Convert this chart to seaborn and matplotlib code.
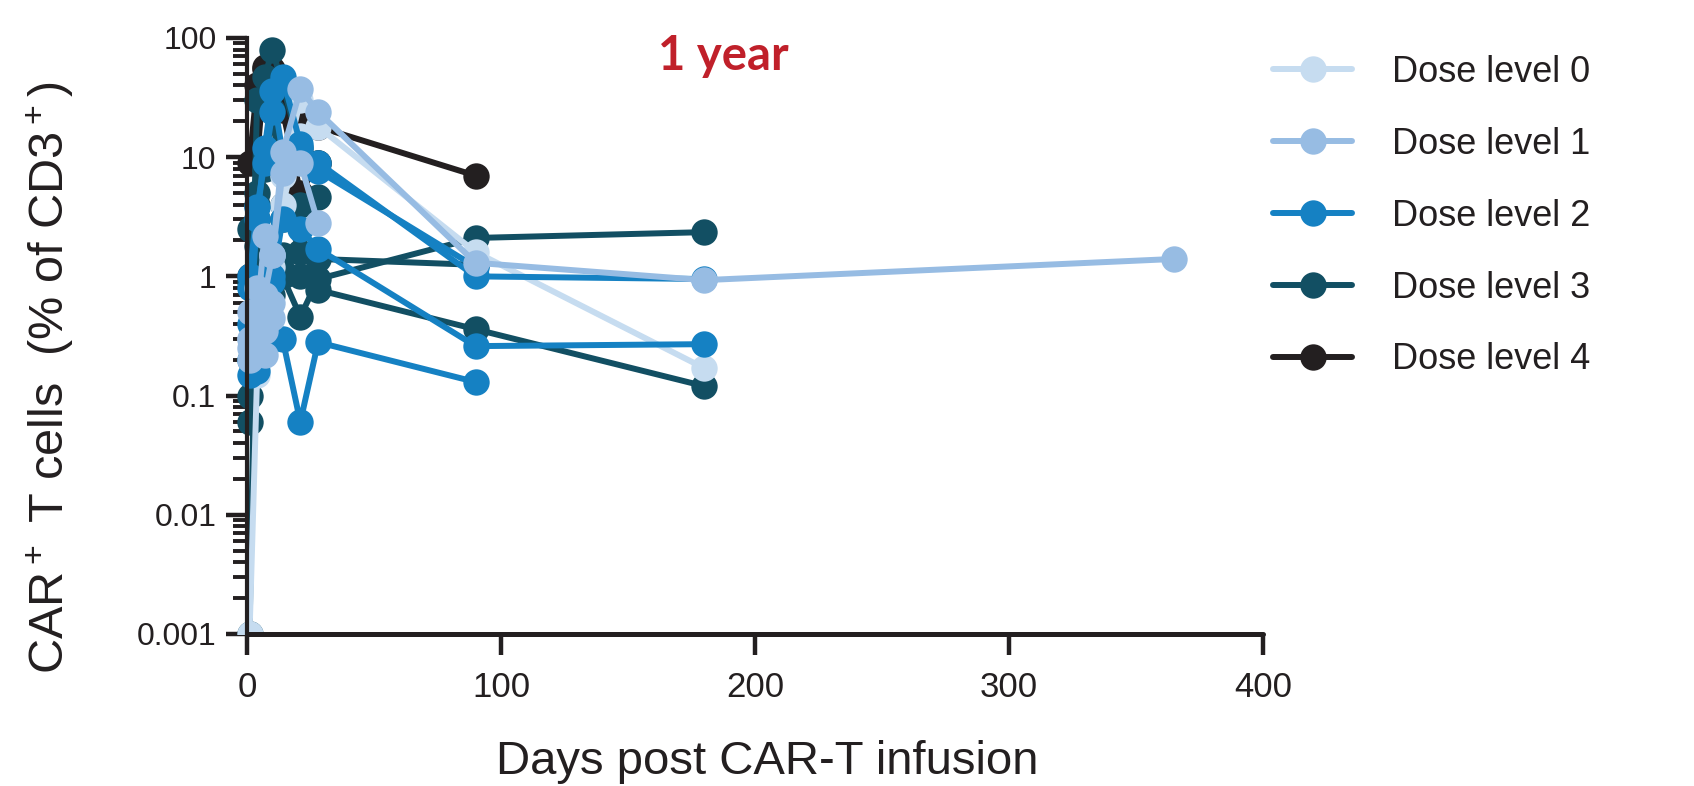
import numpy as np
import pandas as pd
import matplotlib
matplotlib.use("Agg")
import matplotlib.pyplot as plt
import seaborn as sns
from matplotlib.lines import Line2D
from matplotlib.ticker import FixedLocator, LogLocator, NullFormatter
from matplotlib.transforms import Bbox, TransformedBbox

nan = np.nan

# sampling days (first sample drawn just right of the axis)
days = [1, 4, 7, 10, 14, 21, 28, 90, 180, 365]

# CAR+ T cells (% of CD3+) per patient
dl0_a = [0.001, 0.15, 0.35, 1.2, 7.0, 30, 18, 1.6, 0.17, nan]
dl0_b = [0.3, 0.2, 0.5, 1.5, 4.0, 15, nan, nan, nan, nan]

dl1_a = [0.3, 0.5, 2.2, 1.5, 11, 37, 24, 1.3, 0.93, 1.4]
dl1_b = [0.25, 0.35, 0.7, 1.5, 7.4, 9.0, 2.8, nan, nan, nan]
dl1_c = [0.5, 0.8, 0.35, 0.6, nan, nan, nan, nan, nan, nan]
dl1_d = [0.2, 0.3, 0.22, 0.45, nan, nan, nan, nan, nan, nan]

dl2_a = [1.0, 3.8, 9.0, 24, 47, 13, 9.0, 1.0, 0.95, nan]
dl2_b = [0.4, 3.0, 12, 36, 11, 12, 7.7, 1.2, nan, nan]
dl2_c = [0.15, 0.3, 0.5, 0.3, 0.3, 0.06, 0.28, 0.13, nan, nan]
dl2_d = [0.8, 0.2, 0.25, 0.9, 3.0, 2.5, 1.7, 0.26, 0.27, nan]
dl2_e = [0.2, 0.16, 0.6, 1.0, nan, nan, nan, nan, nan, nan]

dl3_a = [0.1, 30, 47, 80, 40, 12, 9.0, nan, nan, nan]
dl3_b = [0.06, 3.0, 8.0, 25, 4.0, 1.6, 1.4, 1.25, nan, nan]
dl3_c = [0.001, 5.0, 2.0, 1.0, 1.0, 0.46, 0.95, 2.1, 2.35, nan]
dl3_d = [2.5, 4.0, 1.0, 0.7, 1.5, 1.0, 0.77, 0.36, 0.12, nan]
dl3_e = [0.9, 1.8, 0.7, 1.2, 3.0, 4.0, 4.6, nan, nan, nan]

dl4_a = [9.0, 40, 57, 50, 30, 22, 18, 7.0, nan, nan]
dl4_b = [1.0, 10, 55, 55, 25, 5.0, 9.0, nan, nan, nan]

dose_labels = ["Dose level 0", "Dose level 1", "Dose level 2", "Dose level 3", "Dose level 4"]
dose_colors = ["#c6dcf0", "#97bce3", "#1581c3", "#124f63", "#231f20"]

x_ticks = [0, 100, 200, 300, 400]
y_ticks = [0.001, 0.01, 0.1, 1, 10, 100]
y_ticklabels = ["0.001", "0.01", "0.1", "1", "10", "100"]

patients = [
    ("dl0_a", 0, dl0_a), ("dl0_b", 0, dl0_b),
    ("dl1_a", 1, dl1_a), ("dl1_b", 1, dl1_b), ("dl1_c", 1, dl1_c), ("dl1_d", 1, dl1_d),
    ("dl2_a", 2, dl2_a), ("dl2_b", 2, dl2_b), ("dl2_c", 2, dl2_c), ("dl2_d", 2, dl2_d),
    ("dl2_e", 2, dl2_e),
    ("dl3_a", 3, dl3_a), ("dl3_b", 3, dl3_b), ("dl3_c", 3, dl3_c), ("dl3_d", 3, dl3_d),
    ("dl3_e", 3, dl3_e),
    ("dl4_a", 4, dl4_a), ("dl4_b", 4, dl4_b),
]

rows = []
for name, dose, vals in patients:
    for d, v in zip(days, vals):
        rows.append({"patient": name, "dose": dose_labels[dose], "day": d, "value": v})
df = pd.DataFrame(rows).dropna()

sns.set_style("ticks")
plt.rcParams["font.family"] = ["Liberation Sans", "DejaVu Sans"]
plt.rcParams["mathtext.default"] = "regular"
ink = "#231f20"

fig = plt.figure(figsize=(16.94, 7.86), dpi=100)
ax = fig.add_axes([0.1458, 0.1934, 0.5998, 0.7583])
ax.set_yscale("log")

palette = dict(zip(dose_labels, dose_colors))
draw_order = ["Dose level 4", "Dose level 3", "Dose level 0", "Dose level 2", "Dose level 1"]
for dose in draw_order:
    sns.lineplot(data=df[df["dose"] == dose], x="day", y="value", units="patient",
                 estimator=None, sort=False, color=palette[dose], marker="o",
                 markersize=19, markeredgewidth=0, linewidth=4.3, legend=False, ax=ax)

# let markers at day 0 spill left of the axis, but clip at the bottom
clip = TransformedBbox(Bbox([[-0.05, 0.0], [1.05, 1.05]]), ax.transAxes)
for ln in ax.lines:
    ln.set_clip_box(clip)

ax.set_xlim(0, 400)
ax.set_ylim(0.001, 100)
ax.xaxis.set_major_locator(FixedLocator(x_ticks))
ax.yaxis.set_major_locator(FixedLocator(y_ticks))
ax.set_yticklabels(y_ticklabels)
ax.yaxis.set_minor_locator(LogLocator(base=10, subs=np.arange(2, 10), numticks=20))
ax.yaxis.set_minor_formatter(NullFormatter())

sns.despine(ax=ax)
ax.spines["bottom"].set_linewidth(3.6)
ax.spines["left"].set_linewidth(3.0)
ax.spines["bottom"].set_color(ink)
ax.spines["left"].set_color(ink)
ax.spines["bottom"].set_capstyle("round")

ax.tick_params(axis="y", which="major", length=15, width=3.2, color=ink,
               labelsize=23, labelcolor=ink, pad=7)
ax.tick_params(axis="y", which="minor", length=10, width=2.8, color=ink)
ax.tick_params(axis="x", which="major", length=15, width=3.2, color=ink,
               labelsize=25, labelcolor=ink, pad=12)

ax.set_xlabel("Days post CAR-T infusion", fontsize=34, color=ink)
ax.xaxis.set_label_coords(0.512, -0.178)
ax.set_ylabel("CAR$^+$ T cells  (% of CD3$^+$)", fontsize=35, color=ink)
ax.yaxis.set_label_coords(-0.168, 0.43)

fig.text(723 / 1694, 1 - 56 / 786, "1 year", fontsize=34, fontweight="bold",
         color="#c0202a", family=["Lato", "DejaVu Sans"], ha="center", va="center")

handles = [Line2D([], [], color=c, marker="o", markersize=19, markeredgewidth=0,
                  linewidth=4.3, solid_capstyle="round") for c in dose_colors]
fig.legend(handles, dose_labels, loc="upper left", bbox_to_anchor=(0.7515, 0.93),
           frameon=False, fontsize=26, labelcolor=ink, handlelength=2.2,
           handletextpad=1.1, labelspacing=1.02, borderpad=0, borderaxespad=0)

fig.savefig("out.png", dpi=100)
